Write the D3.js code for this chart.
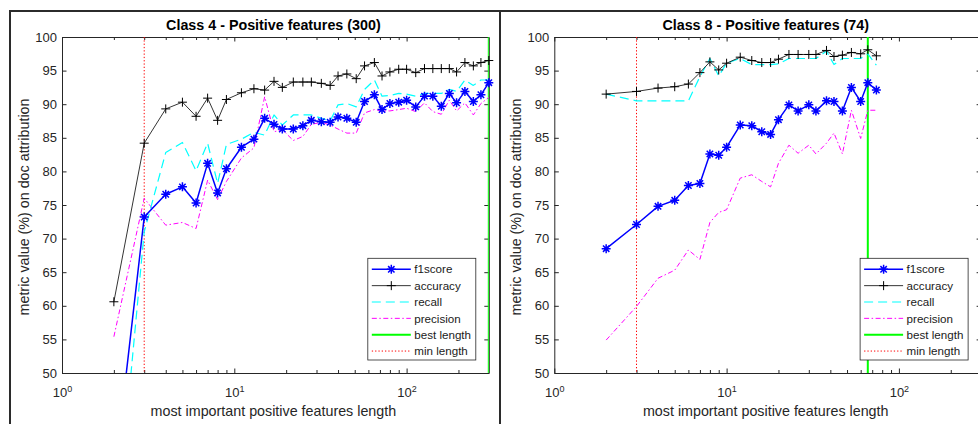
<!DOCTYPE html>
<html>
<head>
<meta charset="utf-8">
<script src="https://cdn.jsdelivr.net/npm/d3@7"></script>
<style>
  body { margin: 0; background: #fff; }
  svg { display: block; font-family: "Liberation Sans", Arial, Helvetica, sans-serif; }
</style>
</head>
<body>
<script>
// ---- Class 4 : positive features (feature-list lengths and metrics in %) ----
const lengthsClass4 = [2, 3, 4, 5, 6, 7, 8, 9, 11, 13, 15, 17, 19, 22, 25, 28, 32, 36, 40, 45, 51, 57, 65, 72, 80, 90, 100, 113, 127, 142, 159, 177, 195, 218, 244, 270, 300];
const f1Class4 = [33.9, 73.2, 76.6, 77.7, 75.3, 81.2, 76.8, 80.4, 83.6, 84.8, 87.9, 87.0, 86.3, 86.3, 86.8, 87.6, 87.4, 87.3, 88.1, 87.9, 87.3, 90.4, 91.4, 89.2, 90.1, 90.3, 90.6, 89.6, 91.2, 91.2, 89.7, 91.6, 90.2, 91.9, 90.4, 91.4, 93.2];
const accuracyClass4 = [60.6, 84.2, 89.3, 90.3, 88.2, 90.9, 87.6, 90.7, 91.7, 92.3, 92.1, 93.4, 92.5, 93.3, 93.3, 93.3, 93.1, 92.8, 94.2, 94.5, 93.8, 95.7, 96.2, 94.2, 94.8, 95.2, 95.2, 94.7, 95.3, 95.3, 95.3, 95.3, 94.8, 96.2, 95.7, 96.2, 96.5];
const recallClass4 = [22.7, 71.0, 82.8, 84.3, 80.1, 84.2, 78.2, 84.0, 84.8, 85.8, 85.4, 88.4, 86.9, 88.4, 88.4, 88.4, 87.9, 87.5, 89.9, 90.1, 89.6, 92.2, 93.6, 91.2, 91.3, 91.6, 91.5, 91.2, 91.6, 91.6, 91.6, 92.2, 91.9, 93.6, 92.8, 93.6, 93.6];
const precisionClass4 = [55.4, 76.0, 72.0, 72.4, 71.5, 78.7, 75.8, 78.5, 82.0, 83.5, 91.1, 85.9, 86.2, 84.6, 85.2, 87.0, 87.3, 86.9, 86.3, 85.7, 85.7, 88.7, 89.2, 89.0, 89.0, 89.2, 89.4, 88.9, 90.2, 88.9, 88.5, 90.6, 89.0, 90.2, 88.4, 90.1, 91.0];
const bestLengthClass4 = 300;
const totalFeaturesClass4 = 300;

// ---- Class 8 : positive features ----
const lengthsClass8 = [2, 3, 4, 5, 6, 7, 8, 9, 10, 12, 14, 16, 18, 20, 23, 26, 30, 33, 38, 42, 47, 53, 60, 66, 74];
const f1Class8 = [68.5, 72.1, 74.8, 75.7, 77.9, 78.2, 82.6, 82.4, 83.6, 86.9, 86.8, 85.9, 85.5, 87.7, 89.9, 89.0, 89.9, 89.0, 90.5, 90.4, 89.0, 92.5, 90.4, 93.2, 92.1];
const accuracyClass8 = [91.5, 91.9, 92.4, 92.6, 93.0, 94.7, 96.3, 95.1, 96.1, 97.0, 96.5, 96.2, 96.2, 96.7, 97.4, 97.4, 97.4, 97.4, 98.0, 97.1, 97.3, 97.7, 97.5, 98.1, 97.2];
const recallClass8 = [91.5, 90.5, 90.5, 90.5, 90.5, 94.1, 96.8, 94.2, 96.1, 96.8, 95.9, 95.9, 95.9, 96.0, 96.8, 96.8, 96.8, 96.8, 97.9, 95.9, 96.8, 96.8, 96.8, 97.5, 95.8];
const precisionClass8 = [54.9, 59.9, 64.1, 65.3, 68.3, 66.9, 72.4, 73.9, 74.3, 79.0, 79.5, 78.5, 77.7, 81.2, 83.9, 82.7, 83.9, 82.6, 84.2, 85.7, 82.6, 89.1, 84.9, 89.1, 89.1];
const bestLengthClass8 = 66;
const totalFeaturesClass8 = 74;

// ---- shared settings ----
const minLength = 3;
const xDomain = [1, 300];
const yDomain = [50, 100];
const yTickValues = [50, 55, 60, 65, 70, 75, 80, 85, 90, 95, 100];
const xMajorTicks = [1, 10, 100];
const xMinorTicks = [2, 3, 4, 5, 6, 7, 8, 9, 20, 30, 40, 50, 60, 70, 80, 90, 200];
const legendLabels = ["f1score", "accuracy", "recall", "precision", "best length", "min length"];
const xAxisTitle = "most important positive features length";
const yAxisTitle = "metric value (%) on doc attribution";

const AXIS_COLOR = "#262626";
const DECADE = 172.3;          // pixels per decade on the log axis
const TOP = 37, BOTTOM = 373;

const svg = d3.select("body").append("svg")
  .attr("width", 978).attr("height", 424);

// figure frame around the two panels
svg.append("path")
  .attr("d", "M10,424V11H978")
  .attr("fill", "none").attr("stroke", "#2b2b2b").attr("stroke-width", 2);
svg.append("line")
  .attr("x1", 500).attr("x2", 500).attr("y1", 11).attr("y2", 424)
  .attr("stroke", "#2b2b2b").attr("stroke-width", 2);

// marker shapes
const plusPath = "M-4.5,0H4.5M0,-4.5V4.5";
const starPath = "M-4.5,0H4.5M0,-4.5V4.5M-3.2,-3.2L3.2,3.2M-3.2,3.2L3.2,-3.2";

const styles = {
  f1score:   { color: "#0000ff", width: 1.5, dash: null, marker: starPath, mw: 1.5 },
  accuracy:  { color: "#000000", width: 0.8, dash: null, marker: plusPath, mw: 1 },
  recall:    { color: "#00ffff", width: 1.2, dash: "9,5", marker: null },
  precision: { color: "#ff00ff", width: 1,   dash: "5,2.5,1.5,2.5", marker: null },
  best:      { color: "#00ff00", width: 2,   dash: null },
  min:       { color: "#ff0000", width: 1,   dash: "1.3,2" }
};

function drawPanel(cfg) {
  const left = cfg.left;
  const right = left + DECADE * Math.log10(xDomain[1]);
  const x = d3.scaleLog().domain(xDomain).range([left, right]);
  const y = d3.scaleLinear().domain(yDomain).range([BOTTOM, TOP]);
  const g = svg.append("g");

  const clipId = "clip-" + cfg.id;
  svg.append("clipPath").attr("id", clipId)
    .append("rect").attr("x", left).attr("y", TOP)
    .attr("width", right - left).attr("height", BOTTOM - TOP);

  // title
  g.append("text")
    .attr("x", (left + right) / 2 - 2).attr("y", 29.5)
    .attr("text-anchor", "middle")
    .attr("font-size", "14.3px").attr("font-weight", "bold").attr("fill", "#000")
    .text(cfg.title);

  // axes
  const styleAxis = sel => {
    sel.selectAll("path.domain").attr("stroke", AXIS_COLOR);
    sel.selectAll(".tick line").attr("stroke", AXIS_COLOR);
    sel.selectAll(".tick text").attr("fill", AXIS_COLOR);
    sel.attr("font-family", null).attr("font-size", "13px");
  };

  const gxMinor = g.append("g").attr("transform", `translate(0,${BOTTOM})`)
    .call(d3.axisBottom(x).tickValues(xMinorTicks).tickSizeInner(-3).tickSizeOuter(0).tickFormat(""));
  gxMinor.select("path.domain").remove();
  styleAxis(gxMinor);

  const gx = g.append("g").attr("transform", `translate(0,${BOTTOM})`)
    .call(d3.axisBottom(x).tickValues(xMajorTicks).tickSizeInner(-4.5).tickSizeOuter(0));
  styleAxis(gx);
  gx.selectAll(".tick text").each(function (d) {
    const t = d3.select(this);
    t.text(null).attr("dy", null).attr("y", 24);
    t.append("tspan").text("10");
    t.append("tspan").attr("font-size", "9px").attr("dy", "-5.5").text(Math.round(Math.log10(d)));
  });

  const gxTopMinor = g.append("g").attr("transform", `translate(0,${TOP})`)
    .call(d3.axisTop(x).tickValues(xMinorTicks).tickSizeInner(-3).tickSizeOuter(0).tickFormat(""));
  gxTopMinor.select("path.domain").remove();
  styleAxis(gxTopMinor);
  const gxTop = g.append("g").attr("transform", `translate(0,${TOP})`)
    .call(d3.axisTop(x).tickValues(xMajorTicks).tickSizeInner(-4.5).tickSizeOuter(0).tickFormat(""));
  styleAxis(gxTop);

  const gy = g.append("g").attr("transform", `translate(${left},0)`)
    .call(d3.axisLeft(y).tickValues(yTickValues).tickSizeInner(-4.5).tickSizeOuter(0).tickPadding(5));
  styleAxis(gy);
  const gyRight = g.append("g").attr("transform", `translate(${right},0)`)
    .call(d3.axisRight(y).tickValues(yTickValues).tickSizeInner(-4.5).tickSizeOuter(0).tickFormat(""));
  styleAxis(gyRight);

  // axis titles
  g.append("text")
    .attr("x", (left + right) / 2 - 2).attr("y", 415.5)
    .attr("text-anchor", "middle").attr("font-size", "14.3px").attr("fill", AXIS_COLOR)
    .text(xAxisTitle);
  g.append("text")
    .attr("transform", `translate(${left - 38},${(TOP + BOTTOM) / 2 + 2}) rotate(-90)`)
    .attr("text-anchor", "middle").attr("dominant-baseline", "central")
    .attr("font-size", "14.3px").attr("fill", AXIS_COLOR)
    .text(yAxisTitle);

  const plot = g.append("g").attr("clip-path", `url(#${clipId})`);

  // reference lines: best length and minimum length
  const vline = (value, st) => plot.append("line")
    .attr("x1", x(value)).attr("x2", x(value)).attr("y1", TOP).attr("y2", BOTTOM)
    .attr("stroke", st.color).attr("stroke-width", st.width)
    .attr("stroke-dasharray", st.dash);
  vline(cfg.best, styles.best);
  vline(minLength, styles.min);

  const lineGen = d3.line().x(d => x(d[0])).y(d => y(d[1]));
  const series = [
    { key: "precision", values: cfg.precision },
    { key: "recall", values: cfg.recall },
    { key: "accuracy", values: cfg.accuracy },
    { key: "f1score", values: cfg.f1 }
  ];
  series.forEach(s => {
    const st = styles[s.key];
    const pts = cfg.lengths.map((L, i) => [L, s.values[i]]);
    plot.append("path").datum(pts)
      .attr("d", lineGen)
      .attr("fill", "none").attr("stroke", st.color).attr("stroke-width", st.width)
      .attr("stroke-dasharray", st.dash).attr("stroke-linejoin", "round");
    if (st.marker) {
      g.append("g").selectAll("path")
        .data(pts.filter(p => p[1] >= yDomain[0] && p[1] <= yDomain[1]))
        .join("path")
        .attr("transform", d => `translate(${x(d[0])},${y(d[1])})`)
        .attr("d", st.marker)
        .attr("fill", "none").attr("stroke", st.color).attr("stroke-width", st.mw);
    }
  });

  // legend
  const lgW = 108, lgH = 101.7;
  const lgX = right - 121, lgY = 258.3;
  const lg = g.append("g").attr("transform", `translate(${lgX},${lgY})`);
  lg.append("rect").attr("x", 0).attr("y", 0).attr("width", lgW).attr("height", lgH)
    .attr("fill", "#fff").attr("stroke", AXIS_COLOR).attr("stroke-width", 0.8);
  const legendStyles = [styles.f1score, styles.accuracy, styles.recall, styles.precision, styles.best, styles.min];
  legendLabels.forEach((label, i) => {
    const st = legendStyles[i];
    const ry = 11 + i * 16.35;
    lg.append("line").attr("x1", 4).attr("x2", 43).attr("y1", ry).attr("y2", ry)
      .attr("stroke", st.color).attr("stroke-width", st.width)
      .attr("stroke-dasharray", st.dash);
    if (st.marker) {
      lg.append("path").attr("transform", `translate(23.5,${ry})`).attr("d", st.marker)
        .attr("fill", "none").attr("stroke", st.color).attr("stroke-width", st.mw);
    }
    lg.append("text").attr("x", 46.5).attr("y", ry).attr("dy", "0.36em")
      .attr("font-size", "11.6px").attr("fill", "#1a1a1a").text(label);
  });
}

drawPanel({
  id: "c4", left: 62,
  title: `Class 4 - Positive features (${totalFeaturesClass4})`,
  lengths: lengthsClass4, f1: f1Class4, accuracy: accuracyClass4,
  recall: recallClass4, precision: precisionClass4, best: bestLengthClass4
});
drawPanel({
  id: "c8", left: 554.3,
  title: `Class 8 - Positive features (${totalFeaturesClass8})`,
  lengths: lengthsClass8, f1: f1Class8, accuracy: accuracyClass8,
  recall: recallClass8, precision: precisionClass8, best: bestLengthClass8
});
</script>
</body>
</html>
